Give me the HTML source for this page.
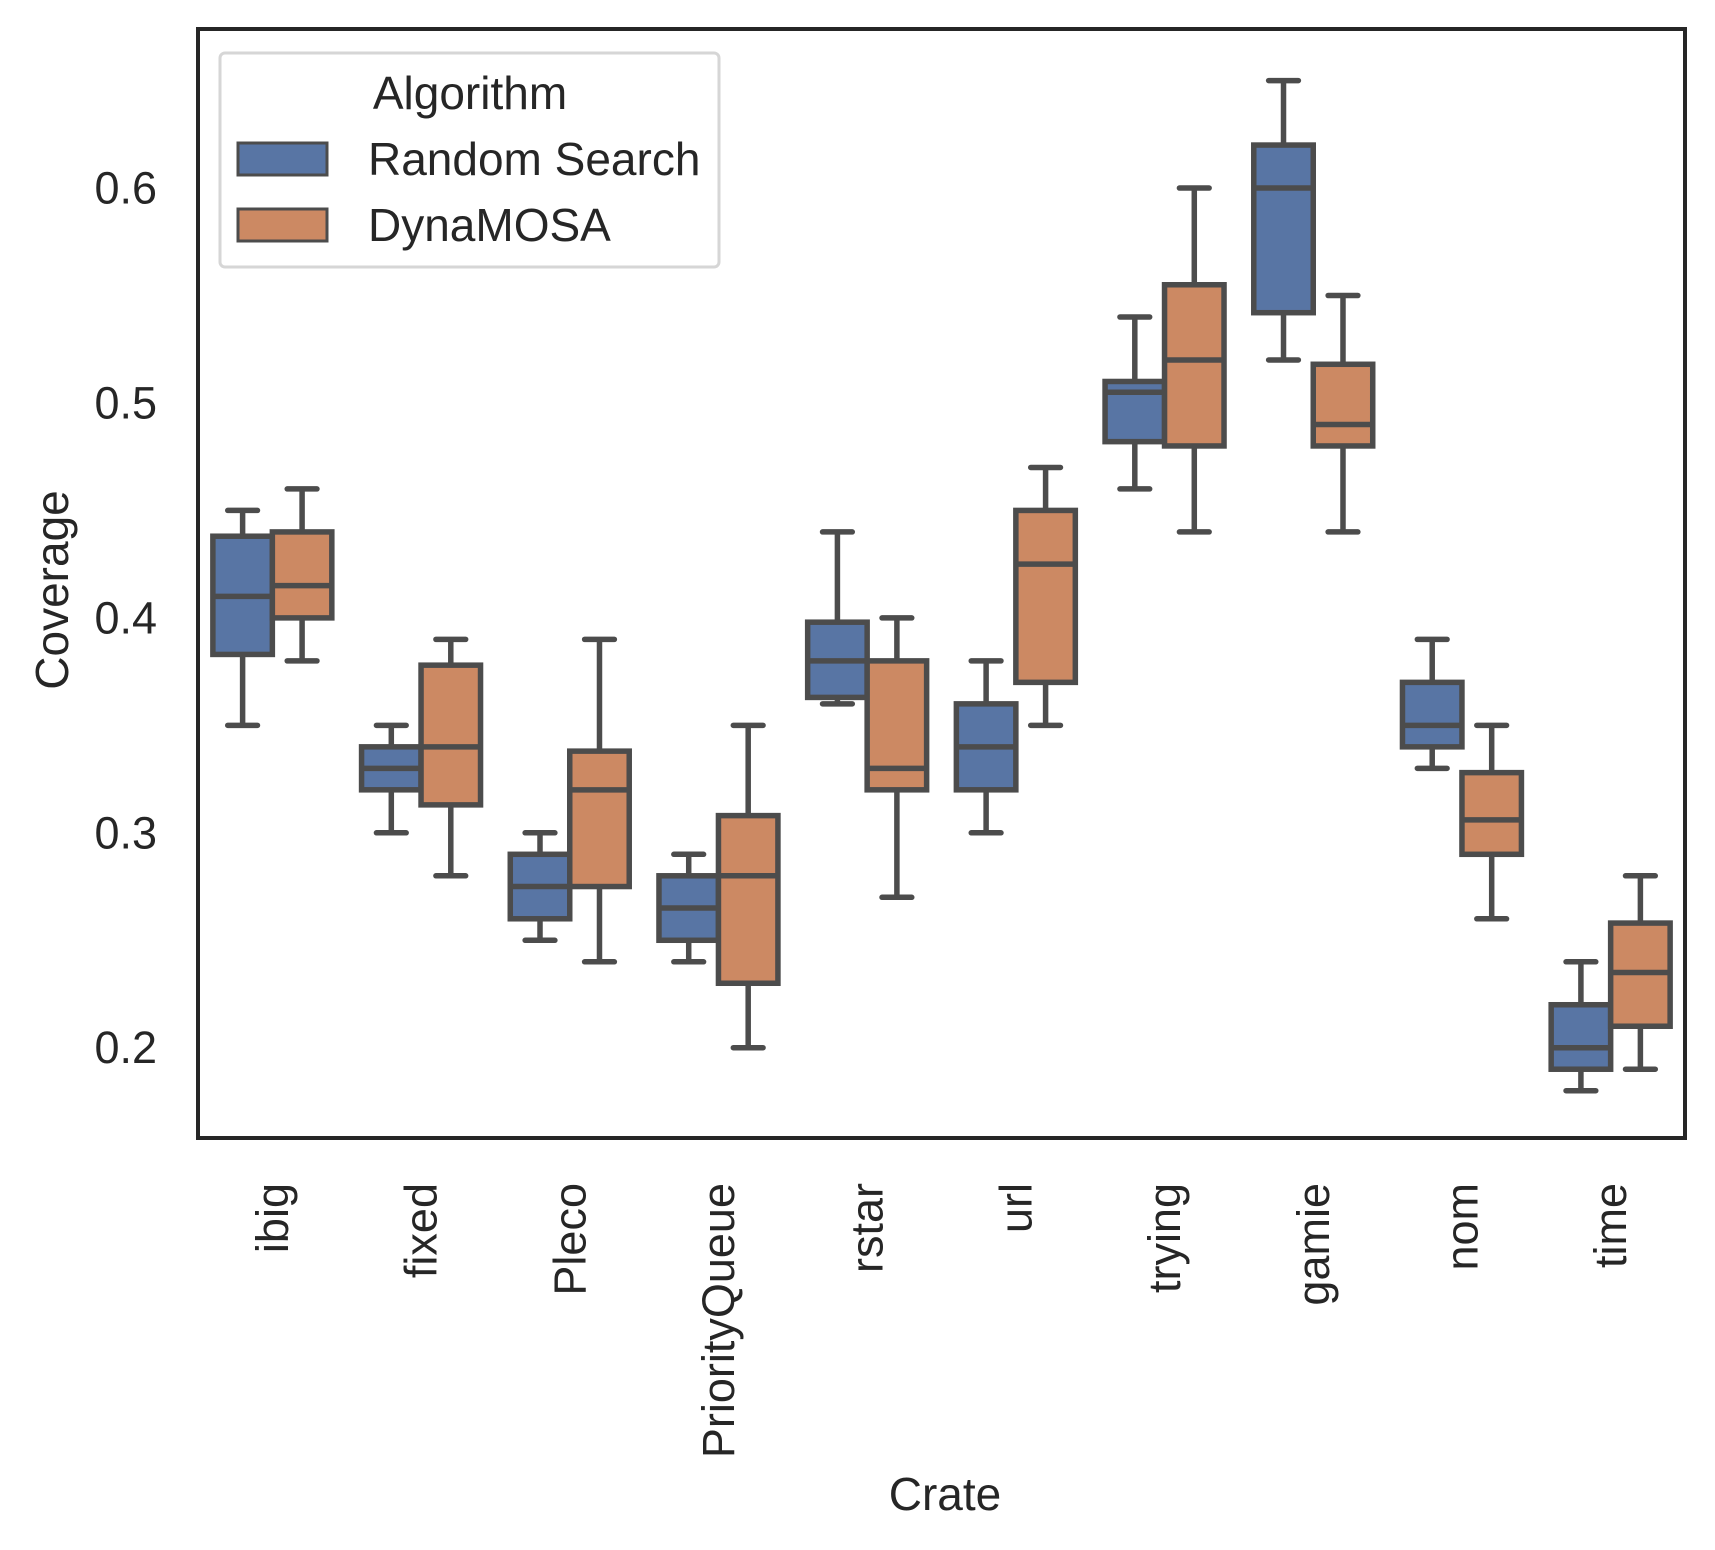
<!DOCTYPE html>
<html><head><meta charset="utf-8"><style>
html,body{margin:0;padding:0;background:#fff;}
svg{display:block;font-family:"Liberation Sans",Arial,sans-serif;}
</style></head><body>
<svg id="chart" width="1715" height="1550" viewBox="0 0 1715 1550"></svg>
<script>
const categories = ["ibig","fixed","Pleco","PriorityQueue","rstar","url","trying","gamie","nom","time"];
const seriesNames = ["Random Search","DynaMOSA"];
const yTicks = [0.2,0.3,0.4,0.5,0.6];
// [whiskerLow, q1, median, q3, whiskerHigh]
const rsStats = [
 [0.35,0.383,0.41,0.438,0.45],
 [0.30,0.32,0.33,0.34,0.35],
 [0.25,0.26,0.275,0.29,0.30],
 [0.24,0.25,0.265,0.28,0.29],
 [0.36,0.363,0.38,0.398,0.44],
 [0.30,0.32,0.34,0.36,0.38],
 [0.46,0.482,0.505,0.51,0.54],
 [0.52,0.542,0.60,0.62,0.65],
 [0.33,0.34,0.35,0.37,0.39],
 [0.18,0.19,0.20,0.22,0.24]
];
const dmStats = [
 [0.38,0.40,0.415,0.44,0.46],
 [0.28,0.313,0.34,0.378,0.39],
 [0.24,0.275,0.32,0.338,0.39],
 [0.20,0.23,0.28,0.308,0.35],
 [0.27,0.32,0.33,0.38,0.40],
 [0.35,0.37,0.425,0.45,0.47],
 [0.44,0.48,0.52,0.555,0.60],
 [0.44,0.48,0.49,0.518,0.55],
 [0.26,0.29,0.306,0.328,0.35],
 [0.19,0.21,0.235,0.258,0.28]
];
const colors = ["#5875a4","#cc8963"];
const L=198,R=1685,T=29,B=1138;
const yMin=0.158,yMax=0.674;
function yS(v){return B-(v-yMin)/(yMax-yMin)*(B-T);}
const band=(R-L)/categories.length;
function xC(i){return L+band*(i+0.5);}
const svg=document.getElementById('chart');
const NS="http://www.w3.org/2000/svg";
function mk(tag,attrs,parent){const e=document.createElementNS(NS,tag);for(const k in attrs)e.setAttribute(k,attrs[k]);(parent||svg).appendChild(e);return e;}
const LC="#4c4c4c";
const SW=5.5;
const boxW=band*0.4;
[rsStats,dmStats].forEach((stats,s)=>{
  stats.forEach((st,i)=>{
    const g=mk('g',{});
    
    
    const cx=xC(i)+(s===0?-boxW/2:boxW/2);
    const x0=cx-boxW/2;
    mk('line',{x1:cx,x2:cx,y1:yS(st[0]),y2:yS(st[1]),stroke:LC,'stroke-width':SW},g);
    mk('line',{x1:cx,x2:cx,y1:yS(st[3]),y2:yS(st[4]),stroke:LC,'stroke-width':SW},g);
    mk('line',{x1:cx-boxW/4,x2:cx+boxW/4,y1:yS(st[0]),y2:yS(st[0]),stroke:LC,'stroke-width':SW,'stroke-linecap':'round'},g);
    mk('line',{x1:cx-boxW/4,x2:cx+boxW/4,y1:yS(st[4]),y2:yS(st[4]),stroke:LC,'stroke-width':SW,'stroke-linecap':'round'},g);
    mk('rect',{x:x0,y:yS(st[3]),width:boxW,height:yS(st[1])-yS(st[3]),fill:colors[s],stroke:LC,'stroke-width':SW},g);
    mk('line',{x1:x0,x2:x0+boxW,y1:yS(st[2]),y2:yS(st[2]),stroke:LC,'stroke-width':SW},g);
  });
});
const frame=mk('rect',{x:L,y:T,width:R-L,height:B-T,fill:'none',stroke:'#262626','stroke-width':4});


yTicks.forEach(v=>{
  const t=mk('text',{x:157,y:yS(v),'text-anchor':'end','dominant-baseline':'central','font-size':45,fill:'#262626'});
  
  
  t.textContent=v.toFixed(1);
});
categories.forEach((c,i)=>{
  const x=xC(i), y=1183;
  const t=mk('text',{x:x,y:y,transform:`rotate(-90 ${x} ${y})`,'text-anchor':'end','dominant-baseline':'central','font-size':45,fill:'#262626'});
  
  
  t.textContent=c;
});
</script>
<svg style="position:absolute;left:0;top:0" width="1715" height="1550">
  <text x="52" y="590" transform="rotate(-90 52 590)" text-anchor="middle" dominant-baseline="central" font-size="46" fill="#262626" font-family="Liberation Sans, sans-serif">Coverage</text>
  <text x="945" y="1494" text-anchor="middle" dominant-baseline="central" font-size="46" fill="#262626" font-family="Liberation Sans, sans-serif">Crate</text>
  <g font-family="Liberation Sans, sans-serif" fill="#262626" font-size="46">
    <rect x="220" y="53" width="499" height="214" rx="5" fill="#fff" stroke="#d6d6d6" stroke-width="3"/>
    <text x="470" y="109" text-anchor="middle">Algorithm</text>
    <rect x="238" y="143" width="89" height="32" fill="#5875a4" stroke="#4c4c4c" stroke-width="3"/>
    <text x="368" y="175">Random Search</text>
    <rect x="238" y="209" width="89" height="32" fill="#cc8963" stroke="#4c4c4c" stroke-width="3"/>
    <text x="368" y="241">DynaMOSA</text>
  </g>
</svg>
</body></html>
